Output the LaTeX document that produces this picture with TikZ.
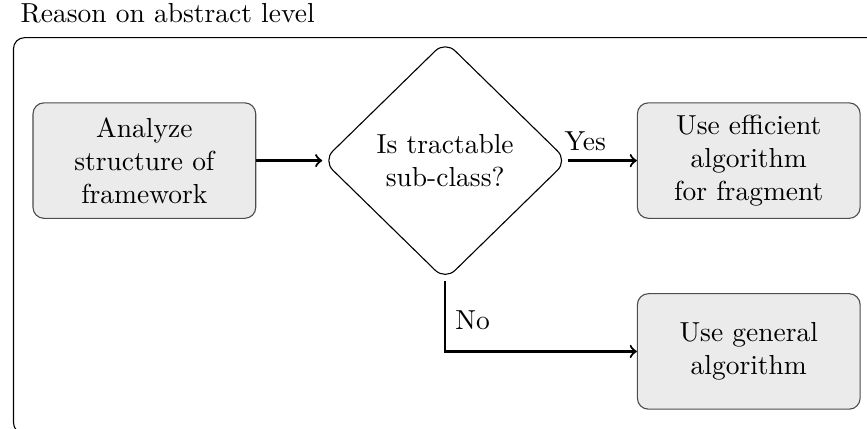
\documentclass[tikz,border=0pt]{standalone}
\usepackage{tikz}
\usetikzlibrary{shapes.geometric,positioning}

\tikzset{
  task/.style={rectangle, rounded corners=4pt, draw=black!70, fill=black!8,
    align=center, minimum width=81pt, minimum height=42pt},
  decision/.style={diamond, rounded corners=5pt, draw, align=center,
    minimum width=89pt, minimum height=87pt, inner sep=1pt},
  frame/.style={rectangle, rounded corners=4pt, draw, anchor=north west,
    minimum width=400pt, minimum height=144pt},
  flow/.style={->, thick}
}

\begin{document}
\begin{tikzpicture}[auto,node distance=24pt]
\useasboundingbox (0,0) rectangle (315.3pt,-156pt);
% outer frame, cut off by the page at the right
\node[frame] (frame) at (4.7pt,-13.5pt) {};
\node[anchor=base west, inner sep=0pt] (title) at (7.3pt,-8pt) {Reason on abstract level};
% the flow
\node[task] (analyze) at (52.5pt,-58.4pt) {Analyze\\structure of\\framework};
\node[decision] (tract) [right = of analyze] {Is tractable\\sub-class?};
\node[task] (efficient) [right = 25pt of tract] {Use efficient\\algorithm\\for fragment};
\node[task] (general) [below = 27pt of efficient] {Use general\\algorithm};
\path[flow] (analyze) edge (tract);
\path[flow] (tract) edge node[pos=0.25] {Yes} (efficient);
\draw[flow] (tract.south) |- node[pos=0.28] {No} (general.west);
\end{tikzpicture}
\end{document}
